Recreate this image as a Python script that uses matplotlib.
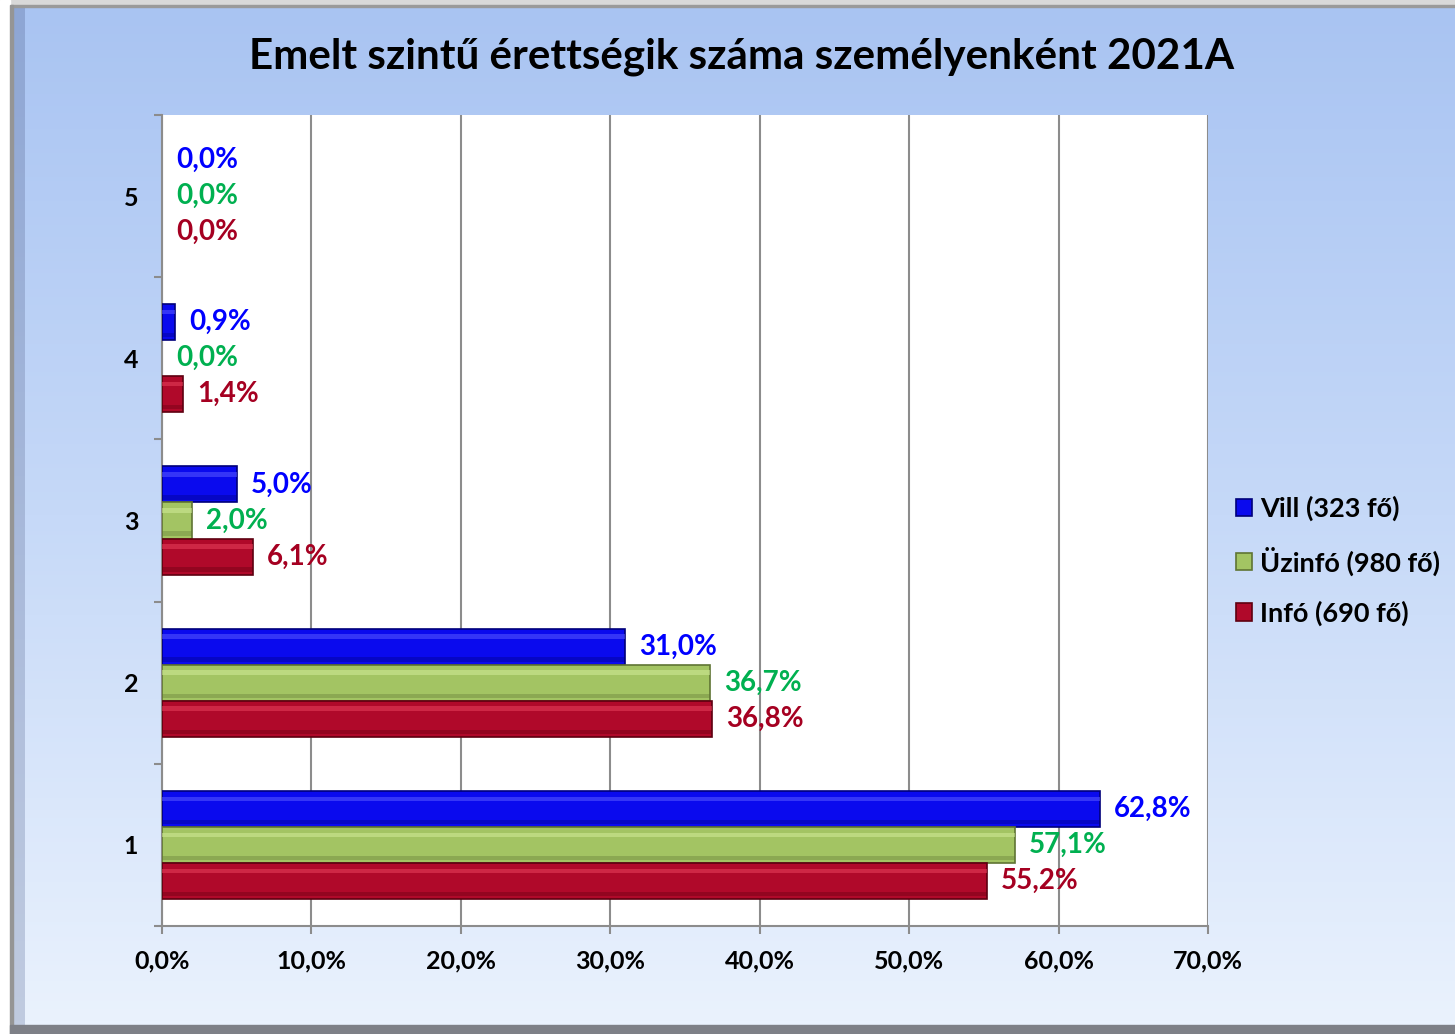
import matplotlib
matplotlib.use("Agg")
import matplotlib.pyplot as plt
import numpy as np
from matplotlib.patches import Rectangle
from matplotlib.colors import LinearSegmentedColormap

plt.rcParams['font.family'] = ['Lato', 'DejaVu Sans']
plt.rcParams['font.weight'] = 'bold'

# data ###################################################################
categories = ['1', '2', '3', '4', '5']
series_names = ['Vill (323 fő)', 'Üzinfó (980 fő)', 'Infó (690 fő)']
vill = [62.8, 31.0, 5.0, 0.9, 0.0]
uzinfo = [57.1, 36.7, 2.0, 0.0, 0.0]
info = [55.2, 36.8, 6.1, 1.4, 0.0]
x_ticks = [0, 10, 20, 30, 40, 50, 60, 70]
title = 'Emelt szintű érettségik száma személyenként 2021A'

bar_colors = ['#0a0aee', '#a3c463', '#b0092a']
edge_colors = ['#00007a', '#5f7434', '#5e0010']
light_colors = ['#5a5aff', '#d2ec98', '#e8405c']
label_colors = ['#0000ff', '#00b050', '#a50021']
##########################################################################

W, H = 1455, 1034
fig = plt.figure(figsize=(W / 100, H / 100), dpi=100)

# background frame with gradient
bg = fig.add_axes([0, 0, 1, 1], zorder=-10)
bg.set_xlim(0, W)
bg.set_ylim(H, 0)
bg.axis('off')
grad = LinearSegmentedColormap.from_list('g', ['#a9c4f2', '#c6d9f8', '#eaf2fd'])
bg.imshow(np.linspace(0, 1, 256).reshape(-1, 1), cmap=grad, aspect='auto',
          extent=[13, W, 1025, 6], zorder=0)
bevel = LinearSegmentedColormap.from_list('b', ['#8ea6d4', '#c0cbe0'])
bg.imshow(np.linspace(0, 1, 256).reshape(-1, 1), cmap=bevel, aspect='auto',
          extent=[13, 25, 1025, 6], zorder=1)
bg.add_patch(Rectangle((0, 0), W, 5, color='#d9d9d9', zorder=2))
bg.add_patch(Rectangle((0, 5), W, 2, color='#9a9a9a', zorder=2))
bg.add_patch(Rectangle((0, 0), 10, H, color='white', zorder=2))
bg.add_patch(Rectangle((10, 5), 3, H, color='#959595', zorder=2))
bg.add_patch(Rectangle((10, 1025), W, 9, color='#7e8087', zorder=3))

# plot area
ax = fig.add_axes([162 / W, 1 - 926 / H, (1208 - 162) / W, (926 - 115) / H])
ax.set_facecolor('white')

y = np.arange(len(categories))
h = 0.222
offsets = [h, 0, -h]
all_series = [vill, uzinfo, info]

for vals, off, c, ec, lc, txtc, name in zip(all_series, offsets, bar_colors,
                                             edge_colors, light_colors,
                                             label_colors, series_names):
    lw = [1.2 if v > 0 else 0 for v in vals]
    ax.barh(y + off, vals, height=h, color=c, edgecolor=ec, linewidth=lw,
            label=name, zorder=3)
    # bevel highlight / shadow
    ax.barh(y + off + h * 0.28, vals, height=h * 0.12, color=lc, alpha=0.55,
            linewidth=0, zorder=4)
    ax.barh(y + off - h * 0.36, vals, height=h * 0.12, color=ec, alpha=0.35,
            linewidth=0, zorder=4)
    for yi, v in zip(y + off, vals):
        ax.annotate(f"{v:.1f}".replace('.', ',') + '%', (v, yi),
                    xytext=(10, 0), textcoords='offset points',
                    va='center', ha='left', color=txtc, fontsize=20,
                    fontweight='bold', zorder=5)

ax.set_xlim(0, 70)
ax.set_ylim(-0.5, 4.5)
ax.set_xticks(x_ticks)
ax.set_xticklabels([f"{t:.1f}".replace('.', ',') + '%' for t in x_ticks])
ax.set_yticks(y)
ax.set_yticklabels(categories)
ax.set_yticks(np.arange(-0.5, 5, 1), minor=True)
ax.tick_params(axis='y', which='major', length=0, pad=17, labelsize=18)
ax.tick_params(axis='y', which='minor', length=6, width=1.5, color='#8c8c8c',
               direction='out')
ax.tick_params(axis='x', length=6, width=1.5, color='#8c8c8c', pad=11,
               labelsize=18)
ax.grid(axis='x', color='#8c8c8c', linewidth=1.5, zorder=1)
ax.set_axisbelow(True)
for s in ['top', 'right']:
    ax.spines[s].set_visible(False)
for s in ['left', 'bottom']:
    ax.spines[s].set_color('#8c8c8c')
    ax.spines[s].set_linewidth(1.5)

fig.text(742 / W, 1 - 57 / H, title, ha='center', va='center', fontsize=30.3,
         fontweight='bold', color='#000000')

handles, labels = ax.get_legend_handles_labels()
fig.legend(handles[:3], labels[:3], loc='center left',
           bbox_to_anchor=(1222 / W, 1 - 561 / H), frameon=False,
           fontsize=19.5, handlelength=0.6, handleheight=0.6,
           handletextpad=0.3, labelspacing=0.92, borderpad=0)

fig.savefig('out.png', dpi=100)
